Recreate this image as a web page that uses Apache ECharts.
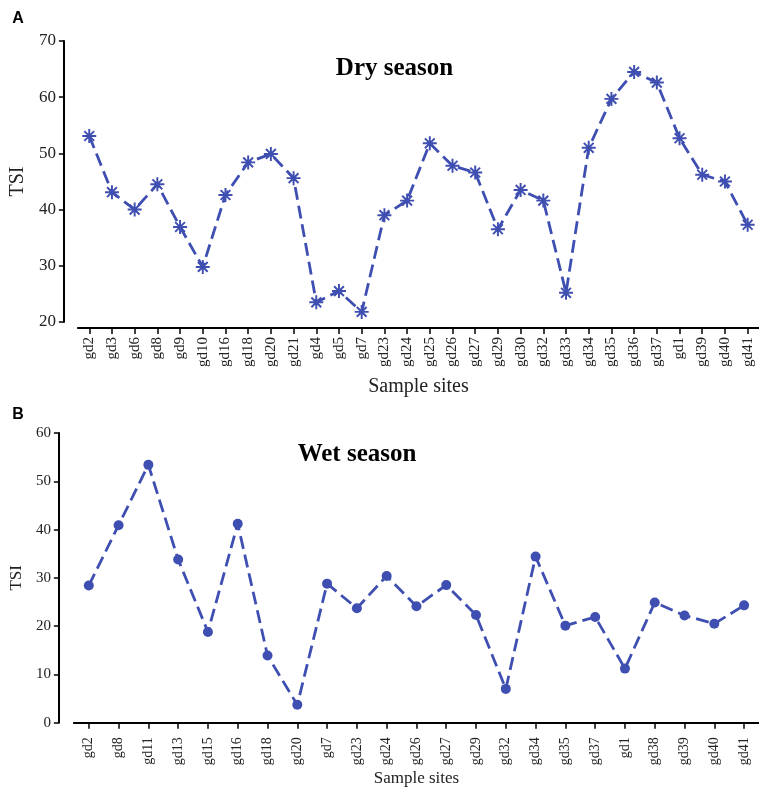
<!DOCTYPE html>
<html><head><meta charset="utf-8">
<script src="https://cdn.jsdelivr.net/npm/echarts@6/dist/echarts.min.js"></script>
<style>html,body{margin:0;padding:0;background:#fff}#c{width:759px;height:789px}</style>
</head><body><div id="c"></div>
<script>
const dryCategories = ['gd2','gd3','gd6','gd8','gd9','gd10','gd16','gd18','gd20','gd21','gd4','gd5','gd7','gd23','gd24','gd25','gd26','gd27','gd29','gd30','gd32','gd33','gd34','gd35','gd36','gd37','gd1','gd39','gd40','gd41'];
const dryValues = [53.1,43.1,40.0,44.5,36.9,29.8,42.6,48.4,49.9,45.6,23.5,25.5,21.8,39.0,41.6,51.8,47.8,46.6,36.5,43.5,41.6,25.2,51.0,59.7,64.5,62.6,52.7,46.2,45.0,37.3];
const wetCategories = ['gd2','gd8','gd11','gd13','gd15','gd16','gd18','gd20','gd7','gd23','gd24','gd26','gd27','gd29','gd32','gd34','gd35','gd37','gd1','gd38','gd39','gd40','gd41'];
const wetValues = [28.4,40.9,53.4,33.8,18.8,41.2,13.9,3.7,28.8,23.7,30.4,24.1,28.5,22.3,7.0,34.4,20.1,21.9,11.2,24.9,22.2,20.5,24.3];
const dryAxisRange = {min: 20, max: 70, interval: 10};
const wetAxisRange = {min: 0, max: 60, interval: 10};
const panelLabels = ['A', 'B'];
const panelTitles = ['Dry season', 'Wet season'];
const yName = 'TSI';
const xName = 'Sample sites';

const blue = '#3f4fb1';
const serif = 'Liberation Serif';
const asterisk = 'path://M43 0L57 0L57 100L43 100Z M0 43L100 43L100 57L0 57Z M20 10L90 80L80 90L10 20Z M80 10L90 20L20 90L10 80Z';

function xAxisDef(idx, cats, offset, fs, nameGap, nameFs) {
  return {
    type: 'category', gridIndex: idx, data: cats, boundaryGap: true, offset: offset,
    axisLine: {show: true, lineStyle: {color: '#000', width: 2}},
    axisTick: {show: true, alignWithLabel: true, length: 6, lineStyle: {color: '#000', width: 1.5}},
    axisLabel: {rotate: 90, interval: 0, margin: 9, fontFamily: serif, fontSize: fs, color: '#222'},
    splitLine: {show: false},
    name: xName, nameLocation: 'middle', nameGap: nameGap,
    nameTextStyle: {fontFamily: serif, fontSize: nameFs, color: '#222'}
  };
}
function yAxisDef(idx, range, offset, fs, nameGap, nameFs) {
  return {
    type: 'value', gridIndex: idx, min: range.min, max: range.max, interval: range.interval, offset: offset,
    axisLine: {show: true, lineStyle: {color: '#000', width: 2}},
    axisTick: {show: true, length: 5, lineStyle: {color: '#000', width: 1.5}},
    axisLabel: {margin: 8, fontFamily: serif, fontSize: fs, color: '#222'},
    splitLine: {show: false},
    name: yName, nameLocation: 'middle', nameGap: nameGap, nameRotate: 90,
    nameTextStyle: {fontFamily: serif, fontSize: nameFs, color: '#222'}
  };
}

const chart = echarts.init(document.getElementById('c'), null, {renderer: 'canvas'});
chart.setOption({
  animation: false,
  backgroundColor: '#fff',
  grid: [
    {left: 76.5, top: 41, width: 691, height: 281},
    {left: 68.8, top: 433, width: 699, height: 289.7}
  ],
  xAxis: [
    xAxisDef(0, dryCategories, 6, 15, 49, 20),
    xAxisDef(1, wetCategories, 5.6, 14, 42, 17)
  ],
  yAxis: [
    yAxisDef(0, dryAxisRange, 14, 17, 34, 20),
    yAxisDef(1, wetAxisRange, 15, 15, 28, 17)
  ],
  graphic: [
    {type: 'text', x: 18, y: 19, style: {text: panelLabels[0], font: 'bold 16px "Liberation Sans"', fill: '#000', textAlign: 'center', textVerticalAlign: 'middle'}},
    {type: 'text', x: 18, y: 414.5, style: {text: panelLabels[1], font: 'bold 16px "Liberation Sans"', fill: '#000', textAlign: 'center', textVerticalAlign: 'middle'}},
    {type: 'text', x: 394.5, y: 69, style: {text: panelTitles[0], font: 'bold 25px "Liberation Serif"', fill: '#000', textAlign: 'center', textVerticalAlign: 'middle'}},
    {type: 'text', x: 357, y: 455, style: {text: panelTitles[1], font: 'bold 25px "Liberation Serif"', fill: '#000', textAlign: 'center', textVerticalAlign: 'middle'}}
  ],
  series: [
    {
      type: 'line', xAxisIndex: 0, yAxisIndex: 0, data: dryValues,
      symbol: asterisk, symbolSize: 14,
      itemStyle: {color: blue},
      lineStyle: {color: blue, width: 2.8, type: [13, 6]}
    },
    {
      type: 'line', xAxisIndex: 1, yAxisIndex: 1, data: wetValues,
      symbol: 'circle', symbolSize: 10,
      itemStyle: {color: blue},
      lineStyle: {color: blue, width: 2.8, type: [13, 6]}
    }
  ]
});
</script>
</body></html>
